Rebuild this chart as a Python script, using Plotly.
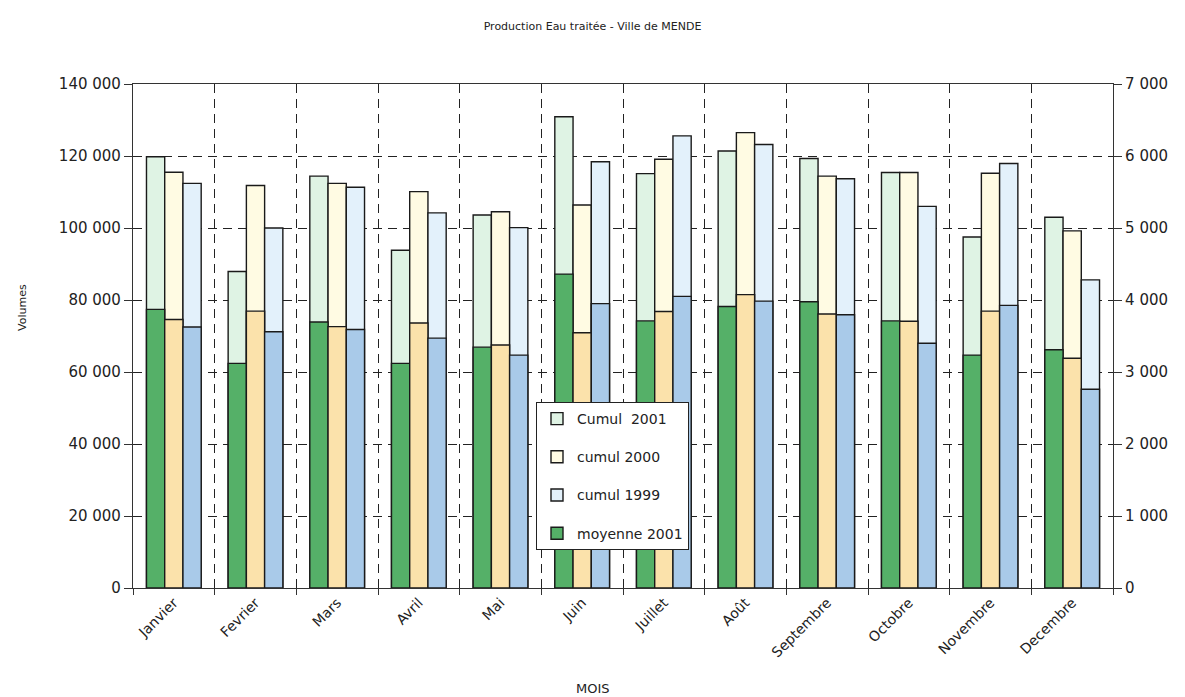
import plotly.graph_objects as go

mois = ["Janvier", "Fevrier", "Mars", "Avril", "Mai", "Juin", "Juillet",
        "Août", "Septembre", "Octobre", "Novembre", "Decembre"]

cumul_2001 = [119800, 87900, 114400, 93800, 103600, 130900, 115100, 121400, 119300, 115400, 97500, 103000]
cumul_2000 = [115500, 111800, 112400, 110100, 104500, 106400, 119100, 126500, 114400, 115400, 115200, 99200]
cumul_1999 = [112400, 100000, 111300, 104200, 100100, 118400, 125600, 123200, 113700, 106000, 117900, 85600]

moyenne_2001 = [3870, 3120, 3695, 3120, 3345, 4360, 3710, 3910, 3975, 3710, 3235, 3310]
moyenne_2000 = [3730, 3845, 3630, 3680, 3375, 3545, 3840, 4075, 3805, 3705, 3845, 3190]
moyenne_1999 = [3625, 3560, 3590, 3470, 3235, 3950, 4050, 3985, 3795, 3400, 3925, 2760]

left_ticks = [0, 20000, 40000, 60000, 80000, 100000, 120000, 140000]
right_ticks = [0, 1000, 2000, 3000, 4000, 5000, 6000, 7000]

FONT = "DejaVu Sans, Open Sans, sans-serif"
LINE = dict(color="#1a1a1a", width=1.4)

light = {"2001": "#dff3e4", "2000": "#fffbe3", "1999": "#e3f1fb"}
dark = {"2001": "#55b068", "2000": "#fbe2ab", "1999": "#a9cae9"}

fig = go.Figure()

cumuls = [("Cumul  2001", cumul_2001, "2001", "1"),
          ("cumul 2000", cumul_2000, "2000", "2"),
          ("cumul 1999", cumul_1999, "1999", "3")]
for name, vals, yr, grp in cumuls:
    fig.add_trace(go.Bar(
        x=mois, y=vals, name=name, marker=dict(color=light[yr], line=LINE),
        offsetgroup=grp, alignmentgroup="all", yaxis="y",
        legendgroup=name, legendrank=int(grp)))

moyennes = [("moyenne 2001", moyenne_2001, "2001", "1", True),
            ("moyenne 2000", moyenne_2000, "2000", "2", False),
            ("moyenne 1999", moyenne_1999, "1999", "3", False)]
for name, vals, yr, grp, show in moyennes:
    fig.add_trace(go.Bar(
        x=mois, y=vals, name=name, marker=dict(color=dark[yr], line=LINE),
        offsetgroup=grp, alignmentgroup="all", yaxis="y2",
        showlegend=show, legendgroup=name, legendrank=4 + int(grp)))

fig.update_layout(
    width=1185, height=697,
    margin=dict(l=133, r=72, t=84, b=109),
    paper_bgcolor="white", plot_bgcolor="white",
    separators=", ",
    barmode="group", bargap=0.33, bargroupgap=0,
    font=dict(family=FONT, size=14, color="#222"),
    title=dict(text="Production Eau traitée - Ville de MENDE", x=0.5, xref="container",
               xanchor="center", y=0.962, yref="container", yanchor="middle",
               font=dict(size=11, family=FONT, color="#222")),
    xaxis=dict(type="category", tickson="boundaries", showgrid=True,
               gridcolor="#222", griddash="9px,6px", gridwidth=1,
               showline=True, linecolor="#333", linewidth=1.2, mirror=True,
               ticks="outside", ticklen=6, tickcolor="#333",
               tickangle=-45, tickfont=dict(size=14)),
    yaxis=dict(range=[0, 140000], tickvals=left_ticks, tickformat=",d",
               showgrid=True, gridcolor="#222", griddash="9px,6px", gridwidth=1,
               showline=True, linecolor="#333", linewidth=1.2,
               ticks="outside", ticklen=8, tickcolor="#333",
               zeroline=False, tickfont=dict(size=15)),
    yaxis2=dict(range=[0, 7000], tickvals=right_ticks, tickformat=",d",
                overlaying="y", side="right", showgrid=False,
                showline=True, linecolor="#333", linewidth=1.2,
                ticks="outside", ticklen=8, tickcolor="#333",
                zeroline=False, tickfont=dict(size=15)),
    legend=dict(x=(536 - 133) / 980, y=(588 - 402) / 504, xanchor="left", yanchor="top",
                bgcolor="white", bordercolor="#222", borderwidth=1,
                font=dict(size=14, family=FONT), traceorder="grouped",
                tracegroupgap=17),
    annotations=[
        dict(text="MOIS", x=(593 - 133) / 980, y=(588 - 688) / 504, xref="paper", yref="paper",
             xanchor="center", yanchor="middle", showarrow=False,
             font=dict(size=13, family=FONT)),
        dict(text="Volumes", textangle=-90, x=(22 - 133) / 980, y=(588 - 308) / 504,
             xref="paper", yref="paper", xanchor="center", yanchor="middle",
             showarrow=False, font=dict(size=11, family=FONT)),
    ],
)

fig.write_html("out.html")
